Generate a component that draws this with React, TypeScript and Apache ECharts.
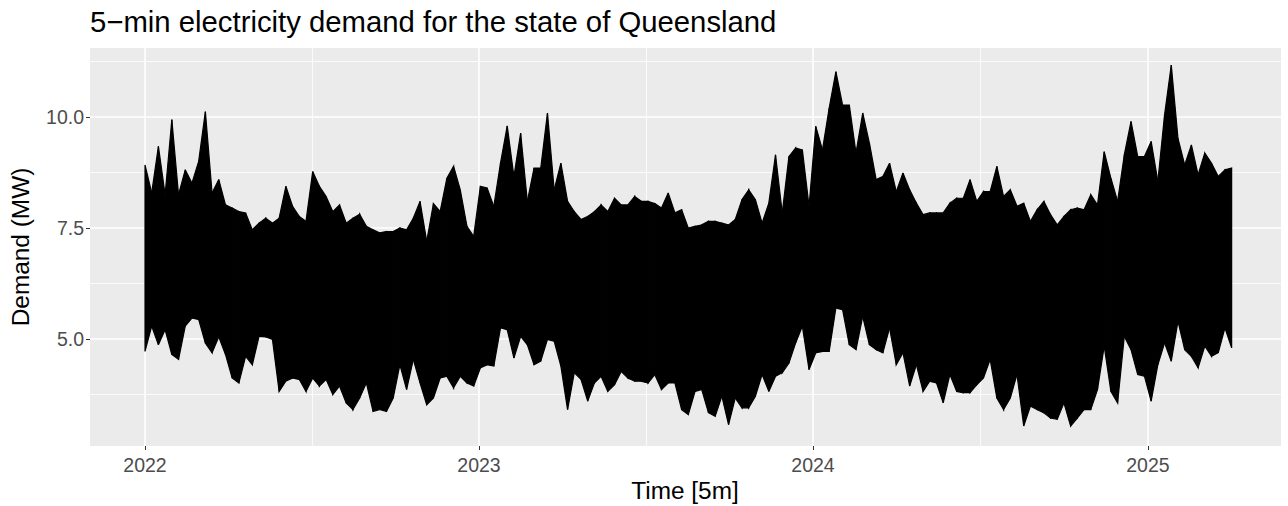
import React, { useEffect, useRef } from "react";
import * as echarts from "echarts";

const FONT = "'Liberation Sans', Arial, Helvetica, sans-serif";
const DAY = 86400000;
const T0 = Date.UTC(2022, 0, 1);
const FIRST_OFFSET_DAYS = 0;
const STEP_DAYS = 7.33;

// Weekly envelope of 5-min demand (MW, as labelled): highs and lows per week
const highs = [
  8.92, 8.29, 9.34, 8.25, 9.94, 8.25, 8.81, 8.51, 9.0, 10.12,
  8.29, 8.59, 8.02, 7.95, 7.87, 7.84, 7.46, 7.61, 7.72, 7.61,
  7.72, 8.44, 7.99, 7.76, 7.65, 8.77, 8.44, 8.21, 7.87, 8.02,
  7.61, 7.72, 7.81, 7.54, 7.46, 7.39, 7.42, 7.42, 7.5, 7.46,
  7.72, 8.1, 7.2, 8.05, 7.87, 8.62, 8.89, 8.36, 7.54, 7.31,
  8.44, 8.4, 7.99, 8.96, 9.8, 8.66, 9.64, 8.1, 8.85, 8.85,
  10.09, 8.36, 8.96, 8.1, 7.87, 7.69, 7.76, 7.87, 8.02, 7.87,
  8.17, 8.02, 8.02, 8.21, 8.1, 8.1, 8.05, 7.95, 8.29, 7.84,
  7.91, 7.5, 7.54, 7.57, 7.65, 7.65, 7.61, 7.57, 7.69, 8.14,
  8.36, 8.14, 7.61, 8.06, 9.15, 7.84, 9.11, 9.3, 9.26, 7.99,
  9.79, 9.26, 10.2, 11.02, 10.27, 10.27, 9.19, 10.09, 9.41, 8.59,
  8.66, 8.96, 8.32, 8.74, 8.36, 8.06, 7.8, 7.84, 7.84, 7.84,
  8.06, 8.17, 8.17, 8.59, 8.1, 8.32, 8.32, 8.89, 8.21, 8.36,
  7.99, 8.06, 7.65, 7.91, 8.1, 7.8, 7.57, 7.76, 7.91, 7.95,
  7.91, 8.25, 8.02, 9.22, 8.62, 8.1, 9.15, 9.9, 9.11, 9.11,
  9.45, 8.55, 10.05, 11.17, 9.52, 8.92, 9.37, 8.7, 9.19, 8.96,
  8.66, 8.81, 8.85,
];
const lows = [
  4.72, 5.29, 4.87, 5.21, 4.65, 4.54, 5.29, 5.47, 5.44, 4.91,
  4.69, 5.05, 4.65, 4.12, 4.01, 4.61, 4.42, 5.06, 5.05, 4.99,
  3.82, 4.05, 4.12, 4.09, 3.82, 4.12, 3.94, 4.09, 3.75, 3.94,
  3.56, 3.41, 3.67, 4.01, 3.37, 3.41, 3.37, 3.67, 4.42, 3.86,
  4.54, 4.01, 3.52, 3.67, 4.12, 4.16, 3.9, 4.16, 4.01, 3.94,
  4.35, 4.42, 4.39, 5.25, 5.21, 4.57, 5.06, 4.87, 4.42, 4.5,
  4.99, 4.95, 4.39, 3.41, 4.24, 4.09, 3.6, 4.01, 4.16, 3.82,
  3.97, 4.27, 4.12, 4.05, 4.05, 4.01, 4.2, 3.86, 4.01, 4.01,
  3.41, 3.3, 3.82, 3.86, 3.34, 3.26, 3.71, 3.07, 3.67, 3.45,
  3.45, 3.71, 4.2, 3.82, 4.16, 4.24, 4.46, 4.91, 5.29, 4.31,
  4.69, 4.72, 4.72, 5.7, 5.66, 4.87, 4.76, 5.51, 4.87, 4.76,
  4.69, 5.25, 4.42, 4.69, 3.94, 4.42, 3.82, 4.05, 4.01, 3.56,
  4.2, 3.82, 3.79, 3.79, 3.97, 4.12, 4.54, 3.67, 3.41, 3.67,
  4.2, 3.04, 3.49, 3.41, 3.34, 3.22, 3.19, 3.56, 3.04, 3.22,
  3.41, 3.41, 3.86, 4.84, 3.82, 3.56, 5.06, 4.76, 4.2, 4.16,
  3.6, 4.42, 4.91, 4.5, 5.4, 4.76, 4.61, 4.35, 4.84, 4.61,
  4.69, 5.25, 4.8,
];

const yTicks = [5, 7.5, 10];
const yMinorTicks = [3.75, 6.25, 8.75, 11.25];
const yearTicks = [2022, 2023, 2024, 2025];

const TITLE = "5\u2212min electricity demand for the state of Queensland";
const X_TITLE = "Time [5m]";
const Y_TITLE = "Demand (MW)";

export default function App() {
  const ref = useRef<HTMLDivElement>(null);

  useEffect(() => {
    if (!ref.current) return;
    const chart = echarts.init(ref.current, null, { renderer: "svg" });

    const times = highs.map((_, i) => T0 + (FIRST_OFFSET_DAYS + i * STEP_DAYS) * DAY);
    const bandData = times.map((t, i) => [t, lows[i], highs[i]]);
    const yearTs = yearTicks.map((y) => Date.UTC(y, 0, 1));
    const yearMinorTs = yearTs.slice(0, -1).map((t, i) => (t + yearTs[i + 1]) / 2);

    const xMin = T0 - 60.1 * DAY;
    const xMax = T0 + 1241.4 * DAY;

    const gridLines: any[] = [];
    yTicks.forEach((v) =>
      gridLines.push({ yAxis: v, lineStyle: { color: "#FFFFFF", width: 1.6, type: "solid" } })
    );
    yMinorTicks.forEach((v) =>
      gridLines.push({ yAxis: v, lineStyle: { color: "#FFFFFF", width: 0.8, type: "solid" } })
    );
    yearTs.forEach((v) =>
      gridLines.push({ xAxis: v, lineStyle: { color: "#FFFFFF", width: 1.6, type: "solid" } })
    );
    yearMinorTs.forEach((v) =>
      gridLines.push({ xAxis: v, lineStyle: { color: "#FFFFFF", width: 0.8, type: "solid" } })
    );

    const option: any = {
      animation: false,
      backgroundColor: "#FFFFFF",
      textStyle: { fontFamily: FONT },
      title: {
        text: TITLE,
        left: 85,
        top: 2,
        textStyle: { fontFamily: FONT, fontSize: 29.3, fontWeight: "normal", color: "#000000" },
      },
      grid: {
        left: 90,
        right: 7,
        top: 48,
        bottom: 60,
        show: true,
        backgroundColor: "#EBEBEB",
        borderWidth: 0,
      },
      xAxis: {
        type: "value",
        min: xMin,
        max: xMax,
        splitLine: { show: false },
        axisLine: { show: false },
        axisTick: {
          show: true,
          customValues: yearTs,
          length: 4,
          lineStyle: { color: "#333333", width: 1 },
        },
        axisLabel: {
          customValues: yearTs,
          formatter: (v: number) => String(new Date(v).getUTCFullYear()),
          color: "#4D4D4D",
          fontSize: 19.5,
          fontFamily: FONT,
          margin: 9,
        },
      },
      yAxis: {
        type: "value",
        min: 2.59,
        max: 11.554,
        splitLine: { show: false },
        axisLine: { show: false },
        axisTick: {
          show: true,
          customValues: yTicks,
          length: 4,
          lineStyle: { color: "#333333", width: 1 },
        },
        axisLabel: {
          customValues: yTicks,
          formatter: (v: number) => v.toFixed(1),
          color: "#4D4D4D",
          fontSize: 19.5,
          fontFamily: FONT,
          margin: 6,
        },
      },
      graphic: [
        {
          type: "text",
          x: 685,
          y: 490,
          style: {
            text: X_TITLE,
            fontSize: 24.4,
            fontFamily: FONT,
            fill: "#000000",
            align: "center",
            verticalAlign: "middle",
          },
        },
        {
          type: "text",
          x: 20,
          y: 247,
          rotation: Math.PI / 2,
          style: {
            text: Y_TITLE,
            fontSize: 24.4,
            fontFamily: FONT,
            fill: "#000000",
            align: "center",
            verticalAlign: "middle",
          },
        },
      ],
      series: [
        {
          name: "grid",
          type: "line",
          z: 1,
          silent: true,
          symbol: "none",
          data: [[xMin, 2.59]],
          lineStyle: { opacity: 0 },
          markLine: {
            silent: true,
            z: 1,
            symbol: ["none", "none"],
            label: { show: false },
            animation: false,
            data: gridLines,
          },
        },
        {
          name: "Demand",
          type: "custom",
          z: 10,
          clip: true,
          encode: { x: 0, y: [1, 2] },
          data: bandData,
          renderItem: (params: any, api: any) => {
            const i = params.dataIndex;
            if (i >= times.length - 1) return null;
            const a = api.coord([times[i], highs[i]]);
            const b = api.coord([times[i + 1], highs[i + 1]]);
            const c = api.coord([times[i + 1], lows[i + 1]]);
            const d = api.coord([times[i], lows[i]]);
            return {
              type: "polygon",
              shape: { points: [a, b, c, d] },
              style: { fill: "#000000", stroke: "#000000", lineWidth: 1.2 },
            };
          },
        },
      ],
    };

    chart.setOption(option);
    return () => chart.dispose();
  }, []);

  return (
    <div
      ref={ref}
      style={{ position: "fixed", left: 0, top: 0, width: 1288, height: 506, background: "#FFFFFF" }}
    />
  );
}
